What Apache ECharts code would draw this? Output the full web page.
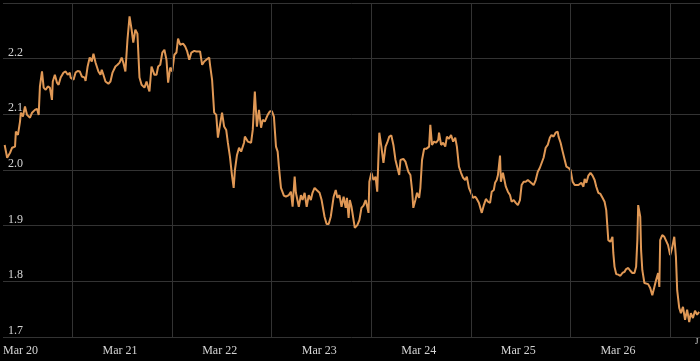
<!DOCTYPE html>
<html><head><meta charset="utf-8">
<script src="https://cdn.jsdelivr.net/npm/echarts@6/dist/echarts.min.js"></script>
<style>html,body{margin:0;padding:0;background:#000}#c{width:700px;height:361px}</style>
</head><body><div id="c"></div>
<script>
const dayLabels = ['Mar 20','Mar 21','Mar 22','Mar 23','Mar 24','Mar 25','Mar 26','Mar 27'];
const gridLineHours = [16.75, 40.75, 64.75, 88.75, 112.75, 136.75, 160.75];
const hours = [
0.4,1.0,1.7,2.2,2.9,3.1,3.6,4.1,4.3,4.8,5.3,5.8,6.5,7.0,7.7,8.2,8.6,8.9,9.4,9.8,
10.3,10.8,11.3,11.8,12.0,12.5,13.0,13.4,13.9,14.6,15.1,15.6,16.1,16.3,17.0,17.5,18.0,18.5,19.0,19.7,
19.9,20.4,20.9,21.4,21.8,22.3,23.0,23.5,23.8,24.2,24.7,25.4,25.9,26.4,27.1,27.6,28.1,28.3,28.6,29.0,
29.5,30.0,30.5,31.0,31.4,31.9,32.4,32.9,33.4,34.1,34.6,35.0,35.3,35.8,36.5,37.0,37.4,37.9,38.4,38.9,
39.4,39.8,40.3,40.8,41.3,41.8,42.2,42.7,43.4,43.9,44.4,44.9,45.4,46.1,46.6,47.0,47.5,48.0,48.5,49.0,
49.7,49.9,50.4,50.9,51.4,51.8,52.3,52.8,53.3,53.8,54.2,54.7,55.2,55.6,55.9,56.4,56.9,57.4,58.1,58.3,
59.0,59.8,60.2,60.7,61.2,61.7,62.2,62.6,63.1,63.8,64.3,64.8,65.3,65.8,66.2,66.5,67.0,67.7,68.2,68.9,
69.4,69.8,70.3,70.6,71.3,71.8,72.2,72.7,73.2,73.7,74.2,74.6,75.1,75.6,76.3,76.8,77.5,78.0,78.5,79.0,
79.7,80.2,80.6,81.1,81.6,82.1,82.6,82.9,83.3,83.6,84.0,84.5,84.8,85.4,85.9,86.4,86.9,87.4,87.8,88.1,
88.3,88.8,89.3,89.8,90.2,90.7,91.2,91.7,92.2,92.6,93.1,93.6,94.1,94.6,95.0,95.5,95.8,96.5,97.0,97.7,
98.2,98.6,98.9,99.4,99.8,100.3,100.6,101.0,101.5,102.0,102.7,103.0,103.4,103.9,104.4,104.9,105.1,105.6,106.1,106.6,
107.0,107.5,108.0,108.5,109.0,109.4,109.9,110.4,110.9,111.4,111.8,112.3,112.8,113.3,113.8,114.2,114.7,115.4,115.9,116.4,
116.9,117.4,117.8,118.3,118.6,119.0,119.3,119.8,120.0,120.5,120.7,121.2,121.7,122.2,122.6,123.1,123.6,124.1,124.6,125.0,
125.5,126.0,126.5,127.0,127.4,127.9,128.4,128.9,129.4,129.8,130.3,130.8,131.3,131.8,132.2,132.7,133.2,133.7,133.9,134.4,
134.9,135.4,135.8,136.3,136.8,137.3,137.8,138.2,138.7,139.0,139.4,139.9,140.2,140.6,141.1,141.6,142.1,142.6,143.0,143.5,
144.0,144.5,145.0,145.4,145.9,146.4,146.9,147.1,147.4,147.8,148.3,148.8,149.3,149.8,150.2,150.7,151.2,151.7,152.2,152.6,
152.9,153.1,153.6,153.8,154.1,154.6,155.0,155.5,156.0,156.5,157.0,157.4,157.9,158.2,158.4,158.9,159.4,159.8,160.3,160.8,
161.3,161.8,162.2,162.5,163.0,163.4,163.9,164.4,164.9,165.4,165.8,166.3,166.8,167.3,167.8
];
const rates = [
2.045,2.022,2.031,2.040,2.042,2.069,2.063,2.087,2.103,2.096,2.114,2.099,2.094,2.103,2.108,2.110,2.099,2.150,2.177,2.148,
2.144,2.150,2.148,2.126,2.159,2.171,2.157,2.153,2.166,2.175,2.177,2.171,2.175,2.166,2.162,2.175,2.178,2.177,2.168,2.166,
2.160,2.186,2.202,2.195,2.209,2.193,2.177,2.171,2.180,2.171,2.159,2.155,2.159,2.175,2.186,2.189,2.193,2.196,2.202,2.193,
2.177,2.234,2.276,2.252,2.229,2.252,2.245,2.166,2.153,2.148,2.159,2.148,2.141,2.186,2.171,2.171,2.186,2.189,2.211,2.216,
2.198,2.157,2.184,2.177,2.207,2.211,2.236,2.225,2.227,2.222,2.213,2.198,2.211,2.214,2.213,2.211,2.213,2.189,2.195,2.198,
2.202,2.189,2.162,2.103,2.099,2.058,2.081,2.103,2.078,2.072,2.049,2.024,1.990,1.968,2.000,2.027,2.040,2.033,2.049,2.060,
2.051,2.049,2.072,2.141,2.078,2.108,2.076,2.090,2.087,2.099,2.105,2.106,2.096,2.042,2.033,2.006,1.968,1.954,1.952,1.955,
1.961,1.934,1.988,1.959,1.934,1.955,1.946,1.959,1.934,1.955,1.946,1.959,1.968,1.964,1.959,1.946,1.916,1.903,1.903,1.916,
1.952,1.964,1.950,1.955,1.934,1.952,1.932,1.950,1.914,1.946,1.934,1.910,1.896,1.901,1.910,1.932,1.936,1.946,1.934,1.923,
1.979,1.995,1.982,1.988,1.961,2.067,2.042,2.013,2.042,2.049,2.060,2.062,2.045,2.018,2.015,1.991,2.018,2.020,2.015,1.997,
1.991,1.964,1.932,1.946,1.959,1.950,1.968,2.018,2.038,2.038,2.042,2.081,2.045,2.051,2.049,2.054,2.067,2.045,2.049,2.042,
2.060,2.056,2.063,2.051,2.058,2.042,2.006,1.995,1.986,1.982,1.988,1.968,1.959,1.950,1.952,1.948,1.941,1.923,1.937,1.948,
1.943,1.941,1.961,1.964,1.977,1.982,1.991,2.026,1.979,1.995,1.988,1.970,1.961,1.955,1.943,1.946,1.941,1.937,1.946,1.973,
1.979,1.979,1.982,1.979,1.977,1.973,1.982,1.997,2.004,2.006,2.022,2.040,2.045,2.058,2.063,2.060,2.067,2.069,2.060,2.049,
2.033,2.018,2.006,2.004,2.000,1.979,1.973,1.970,1.973,1.970,1.977,1.970,1.984,1.977,1.990,1.995,1.990,1.982,1.970,1.959,
1.957,1.950,1.943,1.928,1.874,1.871,1.880,1.851,1.826,1.813,1.812,1.810,1.815,1.817,1.822,1.824,1.819,1.815,1.815,1.826,
1.874,1.937,1.916,1.856,1.820,1.797,1.797,1.795,1.788,1.775,1.790,1.802,1.815,1.790,1.874,1.883,1.880,1.883,1.865,1.847,
1.861,1.880,1.844,1.784,1.752,1.743,1.754,1.731,1.749,1.727,1.743,1.734,1.747,1.740,1.745
];

const chart = echarts.init(document.getElementById('c'), null, {renderer: 'canvas'});
const font = '"Liberation Serif", "DejaVu Serif", serif';
chart.setOption({
  backgroundColor: '#000000',
  animation: false,
  grid: {left: 0, right: 0, top: 3, bottom: 24, containLabel: false},
  xAxis: {
    type: 'value', min: 0, max: 168, interval: 24,
    axisLine: {show: false}, axisTick: {show: false}, splitLine: {show: false},
    axisLabel: {
      show: true, align: 'left', margin: 8,
      color: '#d4d4d4', fontFamily: font, fontSize: 12, showMaxLabel: false,
      formatter: v => dayLabels[Math.round(v / 24)] || ''
    }
  },
  yAxis: {
    type: 'value', min: 1.7, max: 2.3, interval: 0.1,
    axisLine: {show: false}, axisTick: {show: false},
    splitLine: {show: true, lineStyle: {color: '#333333', width: 1}},
    axisLabel: {
      inside: true, margin: 5, verticalAlign: 'bottom', showMaxLabel: false,
      color: '#d4d4d4', fontFamily: font, fontSize: 12,
      formatter: v => v.toFixed(1)
    }
  },
  graphic: [{
    type: 'text', left: 695, top: 337, silent: true,
    style: {text: 'J', fill: '#cccccc', font: '9px "Liberation Serif", serif'}
  }],
  series: [
    {
      type: 'line', data: [], z: 1, silent: true,
      markLine: {
        silent: true, symbol: ['none', 'none'], label: {show: false},
        lineStyle: {color: '#333333', width: 1, type: 'solid'},
        emphasis: {disabled: true},
        data: gridLineHours.map(h => ({xAxis: h}))
      }
    },
    {
      type: 'line', z: 3, showSymbol: false, symbol: 'none',
      data: hours.map((h, i) => [h, rates[i]]),
      lineStyle: {color: '#e09855', width: 2},
      itemStyle: {color: '#e09855'}
    }
  ]
});
</script>
</body></html>
